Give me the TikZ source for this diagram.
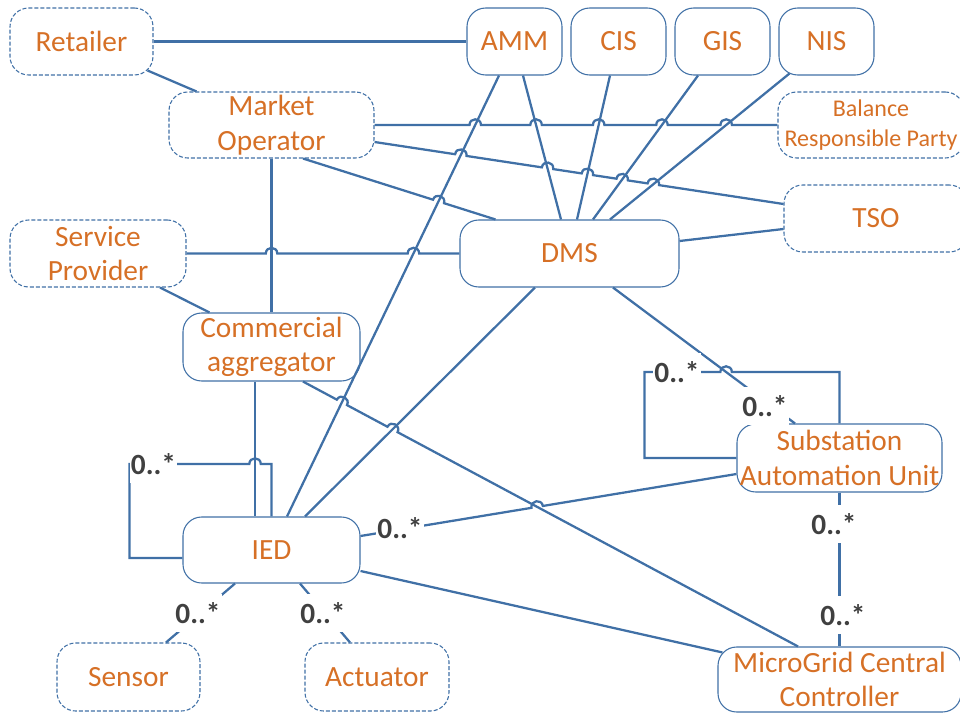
\documentclass[tikz,border=0pt]{standalone}
\usepackage{fontspec}
\setmainfont{Carlito}
\usetikzlibrary{calc}
\definecolor{linkblue}{RGB}{64,112,166}
\definecolor{nameorange}{RGB}{214,112,38}
\definecolor{multgray}{RGB}{64,64,64}
% radius of a line jump
\newcommand\hopr{4.3pt}
% line jump over the crossing point #1 on a straight connector from #2 to #3
\newcommand\hp[3]{-- ($(#1)!\hopr!(#2)$) to[hopto] ($(#1)!\hopr!(#3)$)}

\tikzset{
  box/.style={draw=linkblue, line width=0.8pt, rounded corners=14pt, text=nameorange,
    align=center, inner xsep=-40pt, inner ysep=0pt, font=\fontsize{22}{26}\selectfont},
  ext/.style={box, dash pattern=on 3pt off 1.5pt},
  sz/.style 2 args={minimum width=#1*0.75pt, minimum height=#2*0.75pt},
  conn/.style={draw=linkblue, line width=1.7pt},
  hopto/.style={bend left=90, looseness=1.7},
  mult/.style={fill=white, text=multgray, font=\bfseries\fontsize{22}{26}\selectfont,
    inner xsep=1pt, inner ysep=0pt, minimum height=28pt}
}

\begin{document}
\begin{tikzpicture}[x=0.75pt,y=0.75pt]

\useasboundingbox (0,0) rectangle (960,-713);
\clip (0,0) rectangle (960,-713);

% ---------- actors and systems ----------
\node[ext, sz={143}{67}] (ret) at (81.5,-41.5) {Retailer};
\node[ext, sz={205}{66}] (mo) at (271.5,-125) {Market\\Operator};
\node[ext, sz={176}{67}] (sp) at (98,-253.5) {Service\\Provider};
\node[box, sz={177}{68}] (ca) at (271.5,-347) {Commercial\\aggregator};
\node[box, sz={95}{67}] (amm) at (514.5,-41.5) {AMM};
\node[box, sz={95}{67}] (cis) at (618.5,-41.5) {CIS};
\node[box, sz={95}{67}] (gis) at (722.5,-41.5) {GIS};
\node[box, sz={95}{67}] (nis) at (826.5,-41.5) {NIS};
\node[ext, sz={186}{66}, font=\fontsize{18}{22}\selectfont] (brp) at (871,-125) {Balance\\Responsible Party};
\node[ext, sz={184}{67}] (tso) at (876,-218.5) {TSO};
\node[box, sz={219}{67}] (dms) at (569.5,-253.5) {DMS};
\node[box, sz={205}{68}] (sau) at (839.5,-458) {Substation\\Automation Unit};
\node[box, sz={177}{66}] (ied) at (271.5,-550) {IED};
\node[ext, sz={143}{68}] (sen) at (128.5,-677) {Sensor};
\node[ext, sz={144}{68}] (act) at (377,-677) {Actuator};
\node[box, sz={243}{65}] (mgcc) at (839.5,-679.5) {MicroGrid Central\\Controller};

% ---------- connector end points on the node borders ----------
\path
  ([shift={(-6,5)}]ret.south east)   coordinate (r-m)
  ([shift={(28,0)}]mo.north west)    coordinate (m-r)
  ([shift={(0,-17)}]mo.east)         coordinate (m-t)
  ([shift={(0,14.5)}]tso.west)       coordinate (t-m)
  ([shift={(31.5,0)}]mo.south)       coordinate (m-d)
  ([shift={(36,0)}]dms.north west)   coordinate (d-m)
  ([shift={(62,0)}]sp.south)         coordinate (s-c)
  ([shift={(27,0)}]ca.north west)    coordinate (c-s)
  ([shift={(-15.5,0)}]amm.south)     coordinate (a-i)
  ([shift={(15.5,0)}]ied.north)      coordinate (i-a)
  ([shift={(8.5,0)}]amm.south)       coordinate (a-d)
  ([shift={(-8.5,0)}]dms.north)      coordinate (d-a)
  ([shift={(-8.5,0)}]cis.south)      coordinate (c-d)
  ([shift={(7.5,0)}]dms.north)       coordinate (d-c)
  ([shift={(-24.5,0)}]gis.south)     coordinate (g-d)
  ([shift={(23.5,0)}]dms.north)      coordinate (d-g)
  ([shift={(11,2)}]nis.south west)   coordinate (n-d)
  ([shift={(40.5,0)}]dms.north)      coordinate (d-n)
  ([shift={(0,12.5)}]dms.east)       coordinate (d-t)
  ([shift={(0,-10.5)}]tso.west)      coordinate (t-d)
  ([shift={(-34.5,0)}]dms.south)     coordinate (d-i)
  ([shift={(33.5,0)}]ied.north)      coordinate (i-d)
  ([shift={(43.5,0)}]dms.south)      coordinate (d-s)
  ([shift={(-44.5,0)}]sau.north)     coordinate (s-d)
  ([shift={(0,-16)}]sau.west)        coordinate (s-i)
  ([shift={(0,14)}]ied.east)         coordinate (i-s)
  ([shift={(-16.5,0)}]ca.south)      coordinate (c-i)
  ([shift={(-16.5,0)}]ied.north)     coordinate (i-c)
  ([shift={(31.5,0)}]ca.south)       coordinate (c-g)
  ([shift={(-41.5,0)}]mgcc.north)    coordinate (g-c)
  ([shift={(0,-21)}]ied.east)        coordinate (i-g)
  ([shift={(5,-6)}]mgcc.north west)  coordinate (g-i)
  ([shift={(-36.5,0)}]ied.south)     coordinate (i-sn)
  ([shift={(37.5,0)}]sen.north)      coordinate (sn-i)
  ([shift={(28.5,0)}]ied.south)      coordinate (i-ac)
  ([shift={(-27,0)}]act.north)       coordinate (ac-i)
  ([shift={(0,-8)}]ied.west)         coordinate (i-l)
  ([shift={(-53,-8)}]ied.west)       coordinate (il1)
  ([shift={(-53,86)}]ied.west)       coordinate (il2)
  ([shift={(-92,0)}]sau.west)        coordinate (sl1)
  ([shift={(-92,86)}]sau.west)       coordinate (sl2);
\path (ied.north |- il2) coordinate (il3)
      (sau.north |- sl2) coordinate (sl3);

% ---------- crossing points where a connector jumps over another ----------
\coordinate (q1) at (intersection of mo.east--brp.west and a-i--i-a);
\coordinate (q2) at (intersection of mo.east--brp.west and a-d--d-a);
\coordinate (q3) at (intersection of mo.east--brp.west and c-d--d-c);
\coordinate (q4) at (intersection of mo.east--brp.west and g-d--d-g);
\coordinate (q5) at (intersection of mo.east--brp.west and n-d--d-n);
\coordinate (q6) at (intersection of m-t--t-m and a-i--i-a);
\coordinate (q7) at (intersection of m-t--t-m and a-d--d-a);
\coordinate (q8) at (intersection of m-t--t-m and c-d--d-c);
\coordinate (q9) at (intersection of m-t--t-m and g-d--d-g);
\coordinate (q10) at (intersection of m-t--t-m and n-d--d-n);
\coordinate (q11) at (intersection of m-d--d-m and a-i--i-a);
\coordinate (q12) at (intersection of sp.east--dms.west and mo.south--ca.north);
\coordinate (q13) at (intersection of sp.east--dms.west and a-i--i-a);
\coordinate (q14) at (intersection of c-g--g-c and a-i--i-a);
\coordinate (q15) at (intersection of c-g--g-c and d-i--i-d);
\coordinate (q16) at (intersection of i-s--s-i and c-g--g-c);
\coordinate (q17) at (intersection of il2--il3 and c-i--i-c);
\coordinate (q18) at (intersection of sl2--sl3 and d-s--s-d);

% ---------- connectors ----------
\draw[conn] (ret.east) -- (amm.west);
\draw[conn] (r-m) -- (m-r);
\draw[conn] (mo.east) \hp{q1}{mo.east}{brp.west} \hp{q2}{mo.east}{brp.west}
  \hp{q3}{mo.east}{brp.west} \hp{q4}{mo.east}{brp.west} \hp{q5}{mo.east}{brp.west} -- (brp.west);
\draw[conn] (m-t) \hp{q6}{m-t}{t-m} \hp{q7}{m-t}{t-m} \hp{q8}{m-t}{t-m}
  \hp{q9}{m-t}{t-m} \hp{q10}{m-t}{t-m} -- (t-m);
\draw[conn] (m-d) \hp{q11}{m-d}{d-m} -- (d-m);
\draw[conn] (mo.south) -- (ca.north);
\draw[conn] (sp.east) \hp{q12}{sp.east}{dms.west} \hp{q13}{sp.east}{dms.west} -- (dms.west);
\draw[conn] (s-c) -- (c-s);
\draw[conn] (a-i) -- (i-a);
\draw[conn] (a-d) -- (d-a);
\draw[conn] (c-d) -- (d-c);
\draw[conn] (g-d) -- (d-g);
\draw[conn] (n-d) -- (d-n);
\draw[conn] (d-t) -- (t-d);
\draw[conn] (d-i) -- (i-d);
\draw[conn] (d-s) -- (s-d);
\draw[conn] (sau.west) -- (sl1) -- (sl2) \hp{q18}{sl2}{sl3} -- (sl3) -- (sau.north);
\draw[conn] (i-s) \hp{q16}{i-s}{s-i} -- (s-i);
\draw[conn] (sau.south) -- (mgcc.north);
\draw[conn] (i-l) -- (il1) -- (il2) \hp{q17}{il2}{il3} -- (il3) -- (ied.north);
\draw[conn] (c-i) -- (i-c);
\draw[conn] (c-g) \hp{q14}{c-g}{g-c} \hp{q15}{c-g}{g-c} -- (g-c);
\draw[conn] (i-g) -- (g-i);
\draw[conn] (i-sn) -- (sn-i);
\draw[conn] (i-ac) -- (ac-i);

% ---------- multiplicities ----------
\node[mult] (m1) at (153.5,-464) {0..*};
\node[mult] (m2) at (400,-528) {0..*};
\node[mult] (m3) at (198,-613) {0..*};
\node[mult] (m4) at (323,-613) {0..*};
\node[mult] (m5) at (677,-372) {0..*};
\node[mult] (m6) at (765,-406) {0..*};
\node[mult] (m7) at (834,-524) {0..*};
\node[mult] (m8) at (843,-615) {0..*};
\end{tikzpicture}
\end{document}
